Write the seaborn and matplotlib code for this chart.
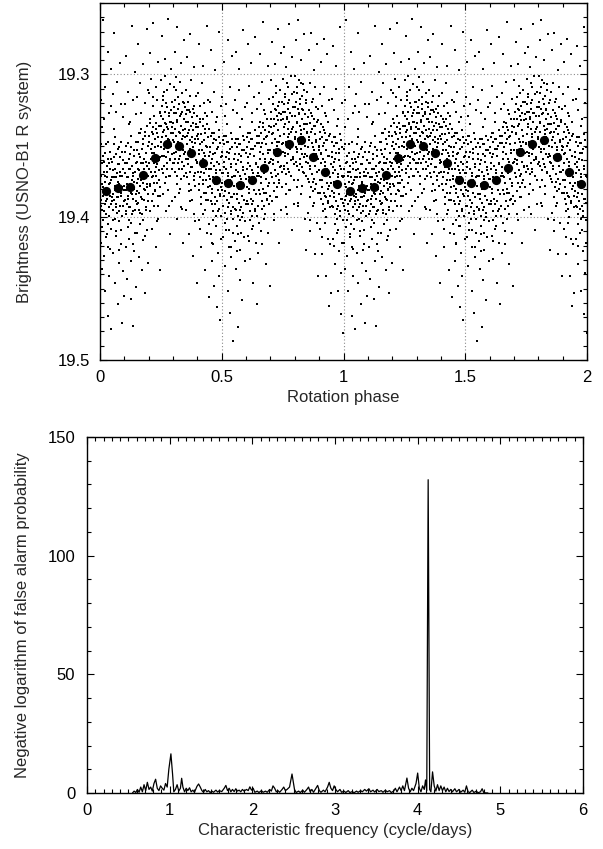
import matplotlib
matplotlib.use("Agg")
import numpy as np
import pandas as pd
import seaborn as sns
import matplotlib.pyplot as plt
from matplotlib.ticker import FixedLocator, MultipleLocator, FixedFormatter

sns.set_style("ticks")
plt.rcParams['font.family'] = ['Liberation Sans', 'DejaVu Sans']

# ---------------- top panel data ----------------
# individual measurements: pairs (phase in 1/1000, magnitude 19.xxx -> xxx)
dots = [
 12,262, 31,284, 44,296, 5,318, 22,309, 38,327, 17,331, 47,322,
 2,352, 4,371, 6,388, 8,395, 9,362, 11,379, 13,402, 14,357, 16,384, 18,368, 19,391, 21,375, 23,349, 24,398,
 26,381, 27,364, 29,387, 30,372, 32,405, 33,359, 35,383, 36,377, 39,393, 40,366, 42,385, 43,354, 45,374, 48,389,
 3,418, 7,436, 15,427, 20,452, 25,414, 34,469, 37,441, 41,422, 46,478,
 58,271, 83,292, 53,314, 64,326, 71,305, 88,321, 95,330,
 51,361, 52,384, 54,395, 56,372, 57,349, 59,388, 61,366, 62,401, 63,378, 65,356, 66,391, 68,381, 69,369, 70,397,
 72,352, 74,386, 75,375, 76,363, 78,403, 79,382, 81,358, 82,392, 84,371, 86,385, 87,347, 90,379, 92,399, 94,366, 97,389,
 55,425, 60,446, 67,413, 73,461, 77,432, 85,419, 89,474, 93,438, 98,455,
 108,287, 131,266, 144,298, 103,321, 115,312, 122,333, 137,318, 147,328,
 101,369, 102,388, 104,354, 106,381, 107,396, 109,362, 111,377, 112,391, 113,348, 116,372, 117,385, 119,402, 120,359,
 121,379, 124,366, 125,393, 127,383, 128,351, 130,374, 132,398, 133,364, 135,387, 136,371, 139,357, 140,380, 142,395,
 145,368, 148,384,
 105,421, 110,443, 118,415, 126,457, 129,431, 134,476, 141,424, 146,449,
 157,279, 176,293, 192,268, 152,316, 163,306, 170,327, 183,320, 196,311,
 151,361, 153,382, 155,347, 156,373, 158,390, 160,356, 161,367, 162,395, 164,341, 166,378, 167,362, 169,386, 171,352,
 172,370, 174,398, 175,345, 177,376, 179,359, 180,388, 182,366, 184,381, 185,340, 187,372, 188,393, 190,355, 191,379,
 194,364, 197,384, 199,350,
 154,411, 159,428, 165,405, 173,437, 178,416, 186,453, 193,409, 198,432,
 207,285, 219,264, 238,291, 202,313, 211,303, 216,322, 228,309, 235,318, 246,326,
 201,343, 203,366, 204,331, 206,378, 208,352, 209,359, 212,340, 213,372, 215,349, 217,384, 218,337, 220,362, 222,355,
 223,376, 225,345, 226,368, 227,382, 229,334, 231,358, 232,371, 234,341, 236,363, 237,385, 239,350, 241,374, 243,336,
 244,360, 247,379, 249,347,
 205,396, 214,408, 221,392, 230,421, 240,401, 245,437,
 256,273, 268,289, 281,261, 293,296, 252,304, 260,315, 265,301, 274,311, 286,307, 297,319,
 251,336, 253,357, 254,322, 255,344, 257,369, 259,331, 261,352, 262,339, 264,364, 266,326, 267,348, 269,372, 271,335,
 272,358, 273,343, 276,323, 277,366, 278,338, 280,354, 282,329, 283,346, 285,371, 287,333, 288,360, 290,341, 291,325,
 294,356, 296,337, 298,362,
 258,384, 270,396, 279,381, 289,412, 295,389,
 306,284, 318,267, 331,292, 345,276, 303,309, 311,302, 322,316, 327,305, 338,313, 347,320,
 301,334, 302,355, 304,323, 305,347, 307,368, 309,338, 310,359, 312,327, 314,343, 315,371, 317,332, 319,351, 320,362,
 321,324, 323,340, 325,366, 326,349, 328,329, 330,357, 332,336, 333,373, 335,345, 336,326, 337,361, 340,339, 342,353,
 343,331, 346,364, 348,344,
 308,386, 316,401, 324,383, 334,393, 341,418,
 357,288, 369,272, 384,295, 352,311, 362,319, 374,304, 381,324, 393,315,
 351,338, 353,359, 354,328, 356,349, 358,372, 360,341, 361,363, 363,333, 365,354, 366,377, 367,325, 368,346, 370,368,
 372,336, 373,357, 375,381, 377,344, 378,330, 379,365, 382,351, 383,339, 385,374, 387,356, 388,327, 390,348, 391,369,
 394,335, 396,360, 398,343,
 355,395, 364,412, 371,389, 380,427, 389,403, 397,446,
 406,279, 423,294, 441,266, 403,313, 412,322, 419,306, 431,327, 444,318,
 401,345, 402,368, 404,337, 405,356, 407,381, 409,349, 410,372, 411,333, 413,361, 415,386, 416,342, 418,365, 420,353,
 421,377, 422,331, 424,359, 426,383, 427,346, 429,369, 430,338, 432,357, 434,388, 435,350, 437,374, 438,335, 440,362,
 442,379, 445,344, 447,366,
 408,402, 414,421, 425,398, 433,437, 439,411, 446,456, 448,405,
 456,283, 474,297, 489,270, 452,319, 461,326, 468,312, 481,330, 495,322,
 451,354, 453,378, 455,343, 457,366, 458,391, 460,359, 462,383, 463,348, 465,372, 466,396, 467,341, 469,364, 471,386,
 472,355, 473,377, 475,399, 477,346, 478,369, 480,389, 482,361, 483,381, 485,351, 486,374, 488,394, 490,344, 491,367,
 493,385, 496,358, 498,379,
 454,412, 459,431, 464,419, 470,448, 476,406, 479,463, 484,425, 487,441, 492,472, 497,415,
 508,291, 524,276, 541,287, 503,316, 513,329, 519,321, 532,309, 546,325,
 501,357, 502,381, 504,346, 505,369, 507,392, 509,361, 510,385, 511,349, 514,375, 515,397, 516,343, 518,366, 520,388,
 521,354, 522,378, 523,401, 525,347, 527,371, 528,390, 530,359, 531,383, 533,352, 535,376, 536,396, 538,363, 540,386,
 542,345, 544,372, 547,393,
 506,414, 512,434, 517,409, 526,452, 529,421, 534,467, 539,428, 545,411, 548,487,
 557,284, 572,296, 588,269, 553,318, 563,327, 569,311, 582,331, 594,323,
 551,359, 552,384, 554,348, 556,371, 558,395, 560,363, 561,387, 562,351, 564,377, 566,399, 567,345, 568,368, 570,390,
 571,356, 573,380, 575,402, 576,349, 578,373, 579,393, 581,361, 583,385, 584,353, 586,376, 587,397, 589,365, 591,388,
 592,346, 595,370, 598,391,
 555,417, 559,436, 565,412, 567,477, 574,444, 577,423, 585,458, 590,414, 596,431,
 606,279, 619,292, 637,274, 603,320, 611,308, 624,327, 631,316, 645,324,
 601,355, 602,379, 604,344, 605,366, 607,391, 609,358, 610,383, 612,347, 613,372, 615,396, 616,341, 618,364, 620,387,
 621,352, 622,376, 625,399, 626,345, 628,369, 629,389, 632,357, 633,381, 635,350, 636,374, 638,394, 640,362, 642,384,
 643,343, 646,371, 648,392,
 608,413, 614,429, 623,408, 630,446, 639,418, 644,461, 649,425,
 657,286, 671,263, 688,294, 652,313, 661,321, 667,305, 679,328, 693,317,
 651,348, 653,371, 654,337, 656,359, 658,384, 660,351, 662,376, 663,341, 665,366, 666,389, 668,334, 669,356, 670,380,
 672,345, 674,369, 675,392, 677,339, 678,361, 680,383, 682,349, 683,373, 685,343, 686,365, 687,387, 689,353, 691,378,
 692,336, 695,362, 698,385,
 655,404, 664,419, 673,401, 681,433, 690,411, 697,448,
 707,277, 718,293, 731,268, 744,285, 702,304, 712,316, 721,308, 729,322, 738,311, 747,319,
 701,337, 703,359, 704,326, 706,348, 708,372, 709,341, 711,363, 713,331, 714,353, 716,376, 717,324, 719,345, 720,367,
 722,335, 723,357, 725,379, 726,329, 728,350, 730,370, 732,339, 733,361, 735,327, 736,347, 737,374, 739,343, 741,365,
 742,332, 745,355, 748,368,
 705,389, 715,402, 724,386, 734,418, 743,395,
 756,281, 764,295, 777,265, 790,288, 752,303, 759,314, 768,306, 775,318, 784,301, 796,312,
 751,331, 753,354, 754,321, 755,342, 757,366, 758,335, 760,357, 761,326, 763,347, 765,370, 766,330, 767,351, 769,362,
 771,338, 772,324, 773,356, 774,344, 776,368, 778,333, 780,352, 781,327, 783,360, 785,340, 786,371, 788,348, 789,329,
 792,358, 794,337, 797,363,
 762,384, 770,398, 779,381, 787,409, 795,391,
 806,276, 813,262, 824,290, 838,272, 802,301, 810,309, 817,304, 829,315, 835,307, 846,318,
 801,329, 803,351, 804,319, 805,340, 807,364, 809,333, 811,354, 812,324, 814,345, 816,367, 818,327, 819,349, 820,359,
 822,336, 823,321, 825,352, 826,342, 828,365, 830,331, 831,356, 833,325, 834,346, 836,369, 837,338, 839,358, 841,328,
 843,350, 845,335, 848,361,
 808,379, 815,392, 827,384, 840,401, 847,423,
 857,283, 866,271, 879,297, 893,279, 852,312, 861,306, 870,319, 884,309, 897,324,
 851,340, 853,362, 854,330, 856,351, 858,375, 860,344, 862,366, 863,334, 865,357, 867,379, 868,327, 869,348, 871,370,
 872,338, 874,360, 876,382, 877,331, 878,353, 880,373, 882,342, 883,364, 885,336, 886,356, 888,377, 889,346, 891,368,
 892,333, 895,359, 898,350,
 855,397, 864,410, 873,392, 881,426, 890,404, 896,441,
 907,291, 918,275, 933,286, 902,314, 911,322, 920,309, 927,329, 941,318,
 901,351, 903,374, 904,340, 906,362, 908,387, 909,355, 910,379, 912,344, 914,369, 915,391, 916,337, 917,359, 919,383,
 921,348, 922,371, 924,394, 925,341, 926,364, 928,386, 930,353, 931,376, 932,346, 934,367, 936,389, 937,357, 938,380,
 940,343, 943,372, 946,385,
 905,408, 913,426, 923,404, 929,441, 935,415, 939,462, 944,419, 948,453,
 958,280, 971,294, 986,267, 953,317, 962,325, 968,310, 979,331, 993,320,
 951,358, 952,382, 954,347, 955,369, 957,393, 959,361, 960,386, 961,350, 963,375, 965,398, 966,344, 967,367, 969,389,
 970,355, 972,379, 974,401, 975,348, 976,372, 978,392, 980,360, 981,384, 983,352, 984,377, 985,396, 987,364, 989,387,
 990,346, 994,371, 997,390,
 956,415, 964,433, 973,411, 977,452, 982,424, 988,468, 991,439, 995,418, 998,481,
]

# further measurements in the dense band (same encoding)
dots_more = [
 1,366, 3,392, 6,349, 7,377, 10,407, 12,385, 15,361, 17,396, 20,371, 22,355, 25,389, 28,412, 28,368, 31,381,
 34,347, 37,399, 38,362, 41,376, 44,408, 46,359, 47,391, 49,372, 8,337, 33,421,
 50,386, 53,367, 55,402, 58,358, 60,381, 61,344, 64,393, 67,372, 67,410, 71,386, 73,363, 77,351, 78,377, 80,396,
 83,368, 85,409, 88,383, 89,354, 91,371, 93,392, 96,360, 98,378, 59,338, 80,423,
 100,381, 103,362, 105,398, 108,350, 110,372, 113,407, 114,387, 118,366, 120,393, 123,356, 126,378, 127,404,
 129,343, 131,384, 134,369, 137,396, 138,353, 141,375, 143,411, 146,362, 148,389, 149,347, 119,335, 136,419,
 150,376, 152,353, 154,391, 157,366, 159,341, 161,383, 163,397, 165,358, 168,374, 170,338, 173,387, 175,362,
 177,402, 178,349, 181,380, 183,369, 186,343, 188,395, 189,361, 193,377, 195,336, 196,389, 198,371, 184,413,
 200,362, 203,347, 205,377, 207,334, 210,368, 212,389, 214,355, 217,342, 219,371, 221,329, 224,381, 226,351,
 228,365, 230,338, 233,376, 235,357, 238,392, 240,344, 242,367, 245,327, 246,385, 248,358, 216,316, 233,403,
 250,351, 252,329, 255,366, 258,340, 260,318, 263,357, 265,376, 268,334, 270,348, 272,320, 275,362, 277,337,
 279,381, 281,345, 284,327, 286,359, 289,371, 290,333, 292,350, 295,319, 297,366, 299,341, 262,312, 283,392,
 300,346, 303,327, 305,362, 308,338, 310,318, 313,354, 316,377, 318,333, 320,347, 323,321, 326,359, 328,341,
 330,380, 333,328, 335,352, 338,366, 339,319, 341,343, 344,371, 346,331, 347,356, 349,323, 311,311, 337,394,
 350,354, 353,333, 355,369, 357,343, 359,325, 362,359, 364,382, 366,339, 369,352, 371,326, 374,365, 376,347,
 378,388, 381,334, 383,357, 386,371, 387,322, 390,345, 392,378, 395,337, 397,362, 399,329, 368,315, 385,398,
 400,361, 403,342, 405,377, 408,353, 410,331, 413,368, 415,391, 417,347, 420,362, 422,336, 425,374, 428,355,
 430,395, 432,341, 435,366, 437,383, 439,329, 441,351, 443,388, 446,338, 448,371, 449,357, 427,320, 412,408,
 450,373, 452,351, 454,389, 457,362, 459,341, 461,380, 463,402, 466,356, 468,375, 470,345, 473,391, 475,367,
 478,406, 480,352, 482,372, 485,396, 487,339, 489,363, 492,384, 494,348, 496,399, 499,369, 476,333, 460,418,
 500,376, 503,354, 505,392, 508,365, 510,343, 512,382, 515,404, 517,358, 519,378, 522,347, 524,393, 526,369,
 529,409, 531,355, 533,374, 536,398, 537,341, 539,365, 542,386, 544,351, 546,401, 549,371, 521,335, 540,421,
 550,378, 553,356, 555,394, 557,367, 559,345, 562,384, 564,406, 566,360, 569,380, 571,349, 573,395, 576,371,
 578,411, 580,357, 582,376, 585,400, 586,343, 588,367, 591,388, 593,353, 596,403, 599,373, 574,337, 563,424,
 600,373, 602,351, 604,389, 607,362, 609,341, 611,380, 614,402, 616,356, 619,375, 621,345, 623,391, 626,367,
 628,406, 630,352, 632,372, 635,396, 637,339, 639,363, 642,384, 644,348, 646,399, 649,369, 624,333, 613,417,
 650,365, 652,343, 654,381, 657,354, 659,333, 661,372, 664,394, 666,348, 669,367, 671,337, 673,383, 676,359,
 678,398, 680,344, 682,364, 685,388, 687,331, 689,355, 692,376, 694,340, 696,391, 699,361, 674,325, 663,410,
 700,353, 702,331, 704,369, 707,342, 709,321, 711,360, 714,382, 716,336, 719,355, 721,325, 723,371, 726,347,
 728,386, 730,332, 732,352, 735,376, 737,319, 739,343, 742,364, 744,328, 746,379, 749,349, 724,313, 713,398,
 750,348, 752,326, 754,364, 757,337, 759,316, 761,355, 764,377, 766,331, 769,350, 771,320, 773,366, 776,342,
 778,381, 780,327, 782,347, 785,371, 787,314, 789,338, 792,359, 794,323, 796,374, 799,344, 774,309, 763,393,
 800,345, 802,323, 804,361, 807,334, 809,313, 811,352, 814,374, 816,328, 819,347, 821,317, 823,363, 826,339,
 828,378, 830,324, 832,344, 835,368, 837,311, 839,335, 842,356, 844,320, 846,371, 849,341, 824,306, 813,390,
 850,357, 852,335, 854,373, 857,346, 859,325, 861,364, 864,386, 866,340, 869,359, 871,329, 873,375, 876,351,
 878,390, 880,336, 882,356, 885,380, 887,323, 889,347, 892,368, 894,332, 896,383, 899,353, 874,317, 863,402,
 900,367, 902,345, 904,383, 907,356, 909,335, 911,374, 914,396, 916,350, 919,369, 921,339, 923,385, 926,361,
 928,400, 930,346, 932,366, 935,390, 937,333, 939,357, 942,378, 944,342, 946,393, 949,363, 924,327, 913,414,
 950,376, 952,354, 954,392, 957,365, 959,344, 961,383, 964,405, 966,359, 969,378, 971,348, 973,394, 976,370,
 978,409, 980,355, 982,375, 985,399, 987,342, 989,366, 992,387, 994,351, 996,402, 999,372, 974,336, 963,420,
]

# phase-binned means (one rotation)
bin_phase = [0.025, 0.075, 0.125, 0.175, 0.225, 0.275, 0.325, 0.375, 0.425, 0.475,
             0.525, 0.575, 0.625, 0.675, 0.725, 0.775, 0.825, 0.875, 0.925, 0.975]
bin_mag = [19.382, 19.3795, 19.3788, 19.3706, 19.3585, 19.349, 19.3499, 19.3548, 19.3617, 19.3737,
           19.3762, 19.3776, 19.3741, 19.3655, 19.3543, 19.349, 19.3462, 19.3578, 19.3683, 19.3769]

# ---------------- bottom panel data ----------------
periodogram = [
 0.55,0, 0.57,0.8, 0.59,0.2, 0.61,1.5, 0.63,0.3, 0.65,2.5, 0.67,0.5, 0.69,3.5, 0.71,1.0, 0.73,4.5,
 0.75,1.5, 0.77,2.5, 0.79,0.8, 0.81,4.0, 0.83,5.8, 0.85,2.0, 0.87,1.0, 0.89,3.0, 0.91,2.0, 0.93,1.2,
 0.95,4.0, 0.97,2.5, 0.99,10, 1.015,16.5, 1.035,8, 1.05,0.5, 1.07,1.5, 1.09,3.5, 1.11,0.8, 1.13,2.0,
 1.145,6.2, 1.16,2.5, 1.18,0.5, 1.20,2.0, 1.22,1.0, 1.24,2.2, 1.26,0.5, 1.28,1.2, 1.30,0.3, 1.33,2.8,
 1.35,3.8, 1.37,2.5, 1.39,1.0, 1.41,0.3, 1.43,1.5, 1.45,0.5, 1.47,1.0, 1.49,0.2, 1.51,0.8, 1.53,0.3,
 1.56,1.2, 1.58,0.4, 1.60,1.0, 1.63,0.6, 1.66,2.0, 1.68,3.2, 1.70,1.0, 1.72,2.0, 1.74,0.5, 1.76,1.5,
 1.78,0.6, 1.80,1.8, 1.82,0.8, 1.84,1.2, 1.86,0.5, 1.88,1.5, 1.90,0.8, 1.93,1.5, 1.95,1.0, 1.97,2.6,
 1.99,1.2, 2.01,2.0, 2.03,0.3, 2.06,0.8, 2.08,0.2, 2.11,1.0, 2.13,0.3, 2.16,0.8, 2.18,0.3, 2.21,1.5,
 2.23,0.8, 2.25,3.0, 2.27,2.0, 2.29,0.5, 2.31,1.0, 2.33,0.3, 2.36,1.5, 2.38,2.5, 2.40,1.0, 2.42,1.5,
 2.45,2.5, 2.48,8.0, 2.51,1.5, 2.53,0.2, 2.56,0.8, 2.58,0.2, 2.61,1.2, 2.63,0.3, 2.66,1.5, 2.68,2.5,
 2.70,0.5, 2.72,1.5, 2.74,0.3, 2.77,2.0, 2.79,3.2, 2.81,1.0, 2.83,0.3, 2.86,1.2, 2.88,0.5, 2.91,2.5,
 2.93,4.5, 2.95,2.0, 2.97,1.0, 2.99,3.0, 3.01,1.5, 3.03,0.5, 3.06,1.5, 3.08,0.3, 3.11,0.8, 3.13,0.2,
 3.16,1.0, 3.18,0.2, 3.21,0.6, 3.23,0.1, 3.26,0.8, 3.28,0.3, 3.31,1.0, 3.33,0.5, 3.36,1.5, 3.38,0.8,
 3.41,1.8, 3.43,0.5, 3.46,1.2, 3.48,0.4, 3.51,1.5, 3.53,0.6, 3.56,1.0, 3.58,0.3, 3.61,1.2, 3.63,0.5,
 3.66,1.0, 3.68,0.2, 3.71,0.8, 3.73,2.0, 3.75,0.5, 3.78,2.5, 3.80,1.0, 3.82,3.0, 3.84,1.0, 3.87,6.3,
 3.89,2.0, 3.91,0.5, 3.93,2.0, 3.95,1.0, 3.98,4.0, 4.00,8.4, 4.02,2.0, 4.04,0.5, 4.06,3.0, 4.08,1.5,
 4.095,5.5, 4.11,1.0, 4.127,132, 4.145,1.5, 4.16,0.5, 4.18,8.9, 4.20,3.0, 4.22,0.8, 4.24,3.5, 4.26,1.0,
 4.28,3.0, 4.30,1.0, 4.32,2.5, 4.34,0.5, 4.36,2.0, 4.38,0.6, 4.40,1.5, 4.42,0.5, 4.45,1.8, 4.47,0.5,
 4.50,1.5, 4.52,0.3, 4.55,1.2, 4.57,0.3, 4.59,3.0, 4.61,0.5, 4.63,0.2, 4.66,1.2, 4.68,0.2, 4.71,0.8,
 4.73,0.1, 4.76,0.5, 4.78,1.8, 4.80,0.1, 4.85,0,
]

# ---------------- build tables ----------------
d = np.array(dots + dots_more, dtype=float).reshape(-1, 2)
ph = d[:, 0] / 1000.0
mg = 19.0 + d[:, 1] / 1000.0
df_dots = pd.DataFrame({"phase": np.concatenate([ph, ph + 1.0]),
                        "mag": np.concatenate([mg, mg])})
bp = np.array(bin_phase)
bm = np.array(bin_mag)
df_bins = pd.DataFrame({"phase": np.concatenate([bp, bp + 1.0]),
                        "mag": np.concatenate([bm, bm])})
pg = np.array(periodogram, dtype=float).reshape(-1, 2)
df_pg = pd.DataFrame({"freq": pg[:, 0], "power": pg[:, 1]})

# ---------------- figure ----------------
W, H = 603, 849
fig = plt.figure(figsize=(W / 100, H / 100), dpi=100)
ax1 = fig.add_axes([100 / W, 1 - 360 / H, 487 / W, 357 / H])
ax2 = fig.add_axes([87 / W, 1 - 793 / H, 496 / W, 356 / H])

FS = 12
grid_kw = dict(color="#8a8a8a", lw=0.8, ls=(0, (1, 2)), zorder=0)

# top panel
for gx in [0.5, 1.0, 1.5]:
    ax1.axvline(gx, **grid_kw)
for gy in [19.3, 19.4]:
    ax1.axhline(gy, **grid_kw)
sns.scatterplot(data=df_dots, x="phase", y="mag", ax=ax1, color="black",
                marker="s", s=3.6, linewidth=0, zorder=2, legend=False)
sns.scatterplot(data=df_bins, x="phase", y="mag", ax=ax1, color="black",
                marker="o", s=44, linewidth=0, zorder=3, legend=False)
ax1.set_xlim(0, 2)
ax1.set_ylim(19.5, 19.25)
ax1.xaxis.set_major_locator(FixedLocator([0, 0.5, 1, 1.5, 2]))
ax1.xaxis.set_major_formatter(FixedFormatter(["0", "0.5", "1", "1.5", "2"]))
ax1.xaxis.set_minor_locator(MultipleLocator(0.1))
ax1.yaxis.set_major_locator(FixedLocator([19.3, 19.4, 19.5]))
ax1.yaxis.set_major_formatter(FixedFormatter(["19.3", "19.4", "19.5"]))
ax1.yaxis.set_minor_locator(MultipleLocator(0.01))
ax1.set_xlabel("Rotation phase", fontsize=FS, labelpad=4)
ax1.set_ylabel("Brightness (USNO-B1 R system)", fontsize=FS)
ax1.yaxis.set_label_coords(-0.14, 0.5)

# bottom panel
sns.lineplot(data=df_pg, x="freq", y="power", ax=ax2, color="black", lw=0.9,
             sort=False, estimator=None)
ax2.set_xlim(0, 6)
ax2.set_ylim(0, 150)
ax2.xaxis.set_major_locator(MultipleLocator(1))
ax2.xaxis.set_minor_locator(MultipleLocator(0.1))
ax2.yaxis.set_major_locator(MultipleLocator(50))
ax2.yaxis.set_minor_locator(MultipleLocator(10))
ax2.set_xlabel("Characteristic frequency (cycle/days)", fontsize=FS, labelpad=4)
ax2.set_ylabel("Negative logarithm of false alarm probability", fontsize=FS)
ax2.yaxis.set_label_coords(-0.115, 0.5)

for ax in (ax1, ax2):
    for sp in ax.spines.values():
        sp.set_visible(True)
        sp.set_linewidth(1.0)
        sp.set_color("black")
    ax.tick_params(which="both", direction="in", top=True, right=True,
                   labelsize=FS, width=0.8, colors="black")
    ax.tick_params(which="major", length=5)
    ax.tick_params(which="minor", length=3)
    ax.tick_params(axis="x", which="major", pad=7)
ax1.tick_params(axis="y", which="major", pad=7)
ax2.tick_params(axis="y", which="major", pad=8.5)

fig.savefig("out.png", dpi=100)
